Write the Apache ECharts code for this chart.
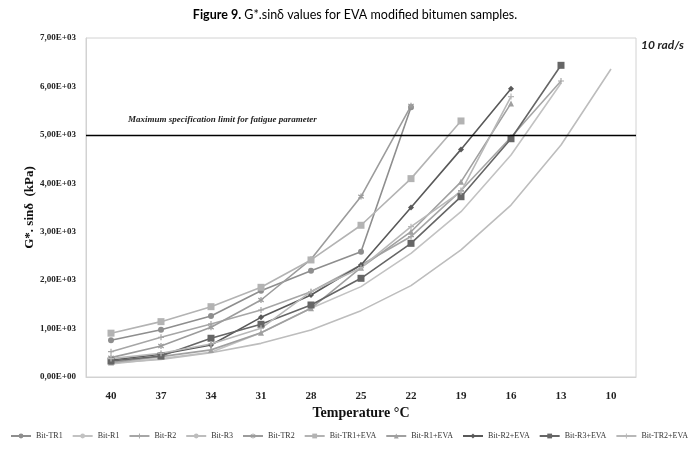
<!DOCTYPE html>
<html>
<head>
<meta charset="utf-8">
<script src="https://cdn.jsdelivr.net/npm/echarts@6/dist/echarts.min.js"></script>
<style>html,body{margin:0;padding:0;background:#fff;}#c{width:700px;height:458px;}</style>
</head>
<body>
<div id="c"></div>
<script>
var categories = ['40','37','34','31','28','25','22','19','16','13','10'];
var bitTR1    = [760, 977, 1260, 1782, 2196, 2588, 5570, null, null, null, null];
var bitR1     = [270, 380, 510, 915, 1418, 1866, 2554, 3414, 4583, 6065, null];
var bitR2     = [523, 820, 1095, 1383, 1762, 2313, 2900, 3850, 4950, 6112, null];
var bitR3     = [290, 360, 500, 695, 970, 1370, 1887, 2624, 3551, 4790, 6360];
var bitTR2    = [400, 640, 1026, 1590, 2430, 3725, 5600, null, null, null, null];
var bitTR1EVA = [905, 1143, 1452, 1852, 2417, 3133, 4096, 5287, null, null, null];
var bitR1EVA  = [300, 420, 560, 915, 1418, 2257, 3000, 4030, 5650, null, null];
var bitR2EVA  = [350, 470, 660, 1232, 1693, 2313, 3500, 4700, 5950, null, null];
var bitR3EVA  = [330, 434, 800, 1088, 1487, 2038, 2760, 3723, 4920, 6436, null];
var bitTR2EVA = [380, 490, 681, 1005, 1762, 2257, 3104, 3827, 5790, null, null];
var limitValue = 5000;
var yTicks = ['0,00E+00','1,00E+03','2,00E+03','3,00E+03','4,00E+03','5,00E+03','6,00E+03','7,00E+03'];

var serif = 'Liberation Serif';
function mk(name, data, color, symbol, size, width) {
  return {
    name: name, type: 'line', data: data, connectNulls: false,
    symbol: symbol, symbolSize: size, showSymbol: symbol !== 'none',
    lineStyle: {color: color, width: width || 1.6},
    itemStyle: {color: color},
    emphasis: {disabled: true}
  };
}
var plus = 'path://M4,0 L6,0 L6,4 L10,4 L10,6 L6,6 L6,10 L4,10 L4,6 L0,6 L0,4 L4,4 Z';
var star = 'path://M4,0 L6,0 L6,3 L9,1 L10,3 L7,5 L10,7 L9,9 L6,7 L6,10 L4,10 L4,7 L1,9 L0,7 L3,5 L0,3 L1,1 L4,3 Z';
var series = [
  mk('Bit-TR1', bitTR1, '#8e8e8e', 'circle', 6),
  mk('Bit-R1', bitR1, '#c2c2c2', 'none', 0),
  mk('Bit-R2', bitR2, '#a6a6a6', plus, 6),
  mk('Bit-R3', bitR3, '#bdbdbd', 'none', 0),
  mk('Bit-TR2', bitTR2, '#9c9c9c', star, 6),
  mk('Bit-TR1+EVA', bitTR1EVA, '#b3b3b3', 'rect', 7),
  mk('Bit-R1+EVA', bitR1EVA, '#a0a0a0', 'triangle', 6),
  mk('Bit-R2+EVA', bitR2EVA, '#595959', 'diamond', 6),
  mk('Bit-R3+EVA', bitR3EVA, '#666666', 'rect', 7),
  mk('Bit-TR2+EVA', bitTR2EVA, '#b8b8b8', plus, 6)
];
series.push({
  type: 'line', data: [], silent: true,
  markLine: {
    symbol: 'none', silent: true,
    lineStyle: {color: '#000', width: 1.4, type: 'solid'},
    label: {show: false},
    data: [{yAxis: limitValue}]
  }
});

var chart = echarts.init(document.getElementById('c'));
chart.setOption({
  animation: false,
  backgroundColor: '#fff',
  title: {
    text: '{b|Figure 9.} G*.sinδ values for EVA modified bitumen samples.',
    left: 350, top: 3, textAlign: 'center',
    textStyle: {fontFamily: 'Lato', fontSize: 12.5, fontWeight: 'normal', color: '#000',
      rich: {b: {fontFamily: 'Lato', fontSize: 12.5, fontWeight: 'bold', color: '#000'}}}
  },
  graphic: [
    {type: 'text', left: 641, top: 39, style: {text: '10 rad/s', font: 'italic bold 12px "Lato"', fill: '#222'}},
    {type: 'text', left: 128, top: 115, style: {text: 'Maximum specification limit for fatigue parameter', font: 'italic bold 9px "Liberation Serif"', fill: '#222'}},
    {type: 'rect', shape: {x: 86, y: 38, width: 550, height: 339}, style: {fill: 'none', stroke: '#d2d2d2', lineWidth: 1}, silent: true, z: -1}
  ],
  legend: {
    top: 432, left: 10, width: 690, padding: 0, itemGap: 9, itemWidth: 20, itemHeight: 6,
    textStyle: {fontFamily: serif, fontSize: 8, color: '#333'},
    data: series.slice(0, 10).map(function (s) { return s.name; })
  },
  grid: {left: 86, right: 64, top: 38, bottom: 81},
  xAxis: {
    type: 'category', data: categories, boundaryGap: true,
    name: 'Temperature °C', nameLocation: 'middle', nameGap: 29, nameMoveOverlap: false,
    nameTextStyle: {fontFamily: serif, fontSize: 14, fontWeight: 'bold', color: '#111'},
    axisLine: {lineStyle: {color: '#d2d2d2', width: 1}},
    axisTick: {show: false},
    axisLabel: {fontFamily: serif, fontSize: 11, fontWeight: 'bold', color: '#222', margin: 14},
    splitLine: {show: false}
  },
  yAxis: {
    type: 'value', min: 0, max: 7000, interval: 1000,
    name: 'G*. sinδ  (kPa)', nameLocation: 'middle', nameGap: 50, nameMoveOverlap: false,
    nameTextStyle: {fontFamily: serif, fontSize: 13, fontWeight: 'bold', color: '#111'},
    axisLine: {show: true, lineStyle: {color: '#d2d2d2', width: 1}},
    axisTick: {show: false},
    axisLabel: {fontFamily: serif, fontSize: 9, fontWeight: 'bold', color: '#222', margin: 10,
      formatter: function (v) { return yTicks[Math.round(v / 1000)]; }},
    splitLine: {show: false}
  },
  series: series
});
</script>
</body>
</html>
